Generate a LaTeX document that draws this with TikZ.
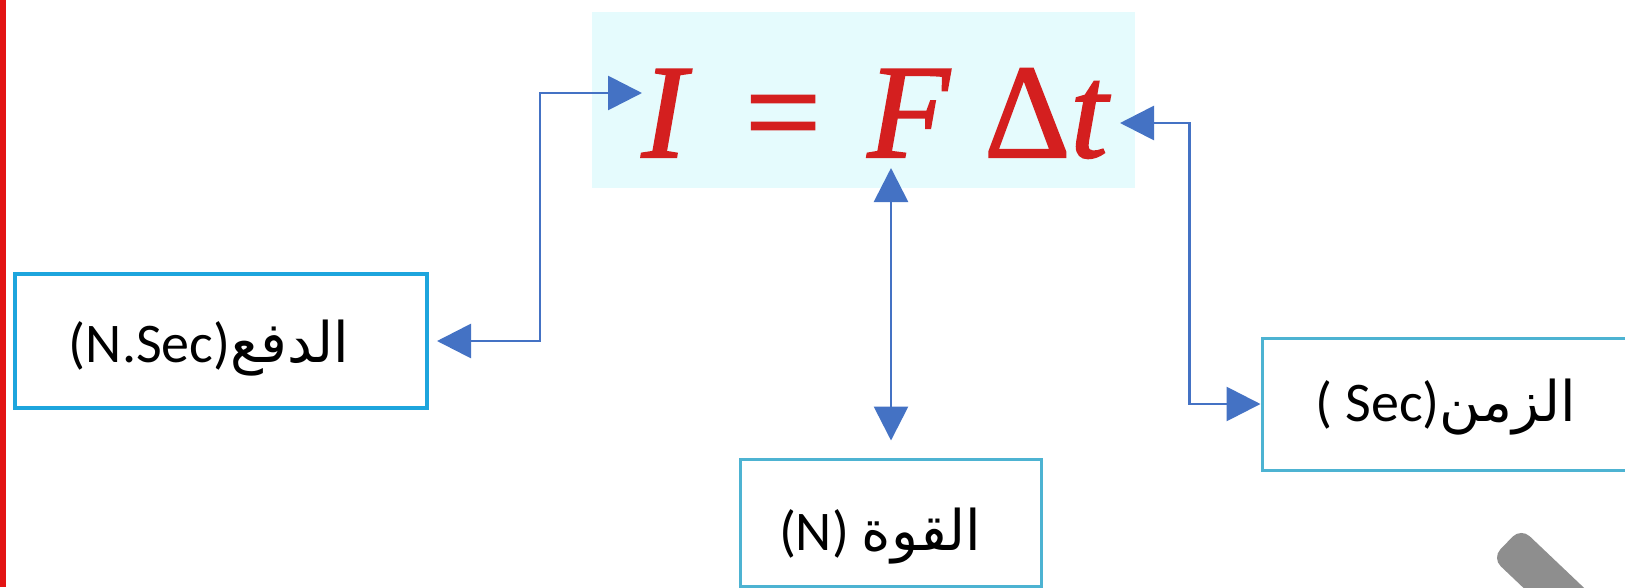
\documentclass[tikz,border=0pt]{standalone}
\usepackage{fontspec}
\setmainfont{Carlito}
\newfontfamily\arabicfont[Script=Arabic]{DejaVu Sans}
\newfontfamily\eqfont[FakeBold=1.5]{Liberation Serif}
\TeXXeTstate=1
\usetikzlibrary{arrows.meta}
\definecolor{eqred}{HTML}{D41F1F}
\definecolor{conblue}{HTML}{4472C4}
\definecolor{boxcyan}{HTML}{1DA5DD}
\definecolor{boxteal}{HTML}{4DB3D2}
\definecolor{eqfill}{HTML}{E5FBFD}
\definecolor{pengray}{HTML}{8E8E8E}
\definecolor{edgered}{HTML}{E31414}
\begin{document}
\begin{tikzpicture}[x=1pt,y=-1pt,
  conn/.style={draw=conblue, line width=2.8pt,
    {Triangle[length=34pt,width=34pt]}-{Triangle[length=34pt,width=34pt]}},
  boxa/.style={draw=boxcyan, line width=4pt, fill=white, inner sep=0pt},
  boxb/.style={draw=boxteal, line width=3pt, fill=white, inner sep=0pt},
  lbl/.style={font=\fontsize{56}{60}\selectfont, inner sep=0pt, anchor=base},
  eqbg/.style={fill=eqfill, inner sep=0pt},
  eqtext/.style={text=eqred, font=\eqfont\fontsize{134}{140}\selectfont, inner sep=0pt, anchor=base}]
\useasboundingbox (0,0) rectangle (1625,587);
\fill[white] (0,0) rectangle (1625,587);
\fill[edgered] (0,0) rectangle (6,587);
% equation
\node[eqbg, minimum width=543pt, minimum height=176pt] (eqbox) at (863.5,100) {};
\node[eqtext] (eq) at (876,157) {\textit{I}\hspace{0.4em}=\hspace{0.35em}\textit{F}\hspace{0.25em}Δ\textit{t}};
\coordinate (pI) at (642,93);
\coordinate (pT) at (1120,123);
\coordinate (pF) at (891,168);
% boxes
\node[boxa, minimum width=412pt, minimum height=134pt] (lb) at (221,341) {};
\node[lbl] (lt) at (209,362) {(N.Sec){\arabicfont\beginR الدفع\endR}};
\node[boxb, minimum width=301pt, minimum height=127pt] (mb) at (891,522.5) {};
\node[lbl] (mt) at (880,550) {(N) {\arabicfont\beginR القوة\endR}};
\node[boxb, minimum width=378pt, minimum height=132pt] (rb) at (1451,404) {};
\node[lbl] (rt) at (1446,421) {( Sec){\arabicfont\beginR الزمن\endR}};
% connectors
\draw[conn, shorten <=8pt] (lb.east) -- ++(111,0) |- (pI);
\draw[conn] (pT) -| ([xshift=-71pt]rb.west) -- (rb.west);
\draw[conn, shorten >=17pt] (pF) -- (pF |- mb.north);
% pen
\fill[pengray, rounded corners=12pt] (1521,528) -- (1640,641) -- (1611,671) -- (1492,558) -- cycle;
\end{tikzpicture}
\end{document}
